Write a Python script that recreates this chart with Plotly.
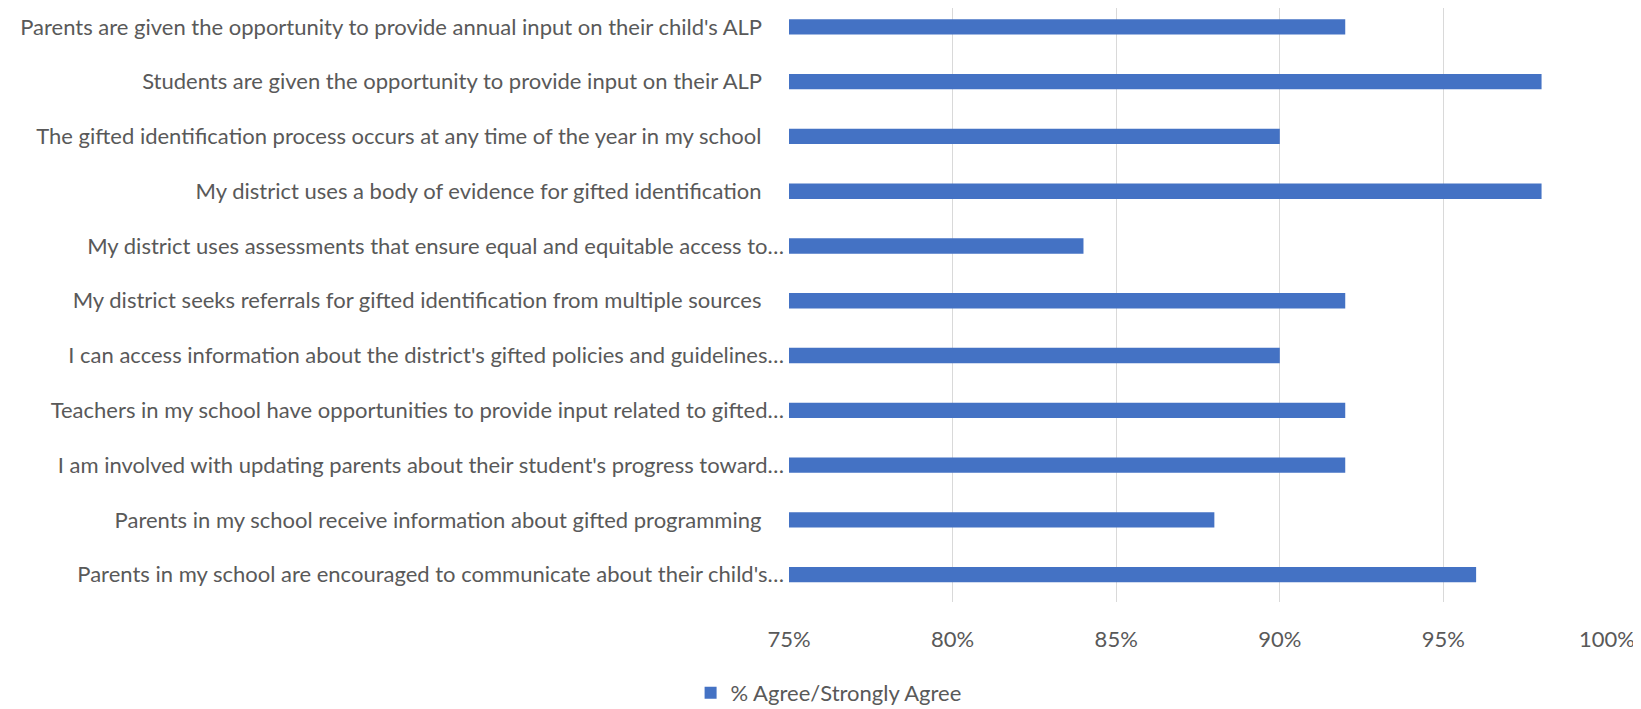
import plotly.graph_objects as go

categories = [
    "Parents are given the opportunity to provide annual input on their child's ALP",
    "Students are given the opportunity to provide input on their ALP",
    "The gifted identification process occurs at any time of the year in my school",
    "My district uses a body of evidence for gifted identification",
    "My district uses assessments that ensure equal and equitable access to…",
    "My district seeks referrals for gifted identification from multiple sources",
    "I can access information about the district's gifted policies and guidelines…",
    "Teachers in my school have opportunities to provide input related to gifted…",
    "I am involved with updating parents about their student's progress toward…",
    "Parents in my school receive information about gifted programming",
    "Parents in my school are encouraged to communicate about their child's…",
]
values = [0.92, 0.98, 0.90, 0.98, 0.84, 0.92, 0.90, 0.92, 0.92, 0.88, 0.96]
series_name = "% Agree/Strongly Agree"
x_ticks = [0.75, 0.80, 0.85, 0.90, 0.95, 1.00]

FONT = "Lato"
TXT = "#595959"
FS = 22

# page body has an 8px margin, so the figure is 8px smaller each way
W, H = 1633, 701

# un-truncated labels sit a little further from the axis in the original
PAD = "\u00a0" * 4
tick_text = [c if c.endswith("…") else c + PAD for c in categories]

fig = go.Figure()
fig.add_trace(go.Bar(
    y=categories, x=values, orientation="h", name=series_name,
    marker=dict(color="#4472C4", line=dict(width=0)),
    showlegend=True,
))

fig.update_layout(
    width=W, height=H,
    paper_bgcolor="white", plot_bgcolor="white",
    margin=dict(l=781, r=34, t=0, b=107, pad=0),
    bargap=0.72,
    font=dict(family=FONT, size=FS, color=TXT),
    showlegend=True,
    legend=dict(orientation="h", xref="container", yref="container",
                x=0.418, xanchor="left", y=(H - 685) / H, yanchor="middle",
                font=dict(family=FONT, size=FS, color=TXT),
                itemwidth=30),
)
fig.update_xaxes(
    range=[0.75, 1.0], tickvals=x_ticks, tickformat=".0%",
    showgrid=True, gridcolor="#D9D9D9", gridwidth=1.3,
    zeroline=False, showline=False, ticks="",
    tickfont=dict(family=FONT, size=FS, color=TXT),
    ticklabelstandoff=22,
)
fig.update_yaxes(
    categoryorder="array", categoryarray=categories,
    tickmode="array", tickvals=categories, ticktext=tick_text,
    range=[10.5, -0.345],
    showgrid=False, zeroline=False, showline=False, ticks="",
    tickfont=dict(family=FONT, size=FS, color=TXT),
    ticklabelstandoff=4,
)

fig.write_html("out.html")
